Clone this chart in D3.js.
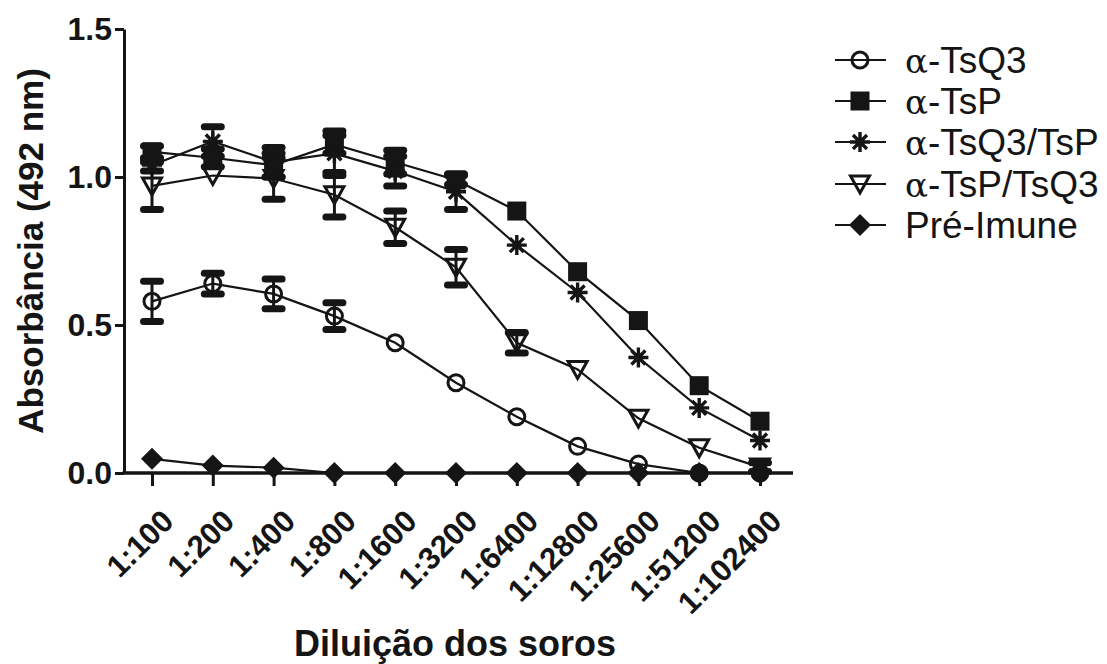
<!DOCTYPE html>
<html>
<head>
<meta charset="utf-8">
<script src="https://cdn.jsdelivr.net/npm/d3@7"></script>
<style>
  body { margin: 0; background: #fff; }
  svg { font-family: "Liberation Sans", Arial, sans-serif; }
</style>
</head>
<body>
<svg id="chart" width="1107" height="664"></svg>
<script>
var dilutions = ["1:100", "1:200", "1:400", "1:800", "1:1600", "1:3200", "1:6400", "1:12800", "1:25600", "1:51200", "1:102400"];
var yTicks = [0, 0.5, 1.0, 1.5];

var tsq3 = [0.58, 0.64, 0.605, 0.53, 0.44, 0.305, 0.19, 0.09, 0.03, 0.0, 0.0];
var tsq3Err = [0.068, 0.035, 0.05, 0.045, 0.01, 0.01, 0.01, 0.01, 0.01, 0.0, 0.0];
var tsp = [1.085, 1.065, 1.04, 1.11, 1.05, 0.99, 0.885, 0.68, 0.515, 0.295, 0.175];
var tspErr = [0.02, 0.03, 0.04, 0.03, 0.04, 0.015, 0.01, 0.01, 0.01, 0.01, 0.01];
var tsq3tsp = [1.04, 1.12, 1.05, 1.08, 1.02, 0.95, 0.77, 0.61, 0.39, 0.22, 0.11];
var tsq3tspErr = [0.02, 0.05, 0.05, 0.075, 0.05, 0.06, 0.01, 0.01, 0.01, 0.01, 0.01];
var tsptsq3 = [0.97, 1.005, 0.995, 0.94, 0.83, 0.695, 0.44, 0.35, 0.185, 0.085, 0.02];
var tsptsq3Err = [0.08, 0.01, 0.07, 0.075, 0.055, 0.06, 0.035, 0.01, 0.01, 0.01, 0.015];
var preImune = [0.048, 0.025, 0.018, 0.0, 0.0, 0.0, 0.0, 0.0, 0.0, 0.0, 0.0];
var preImuneErr = [0.005, 0.005, 0.005, 0, 0, 0, 0, 0, 0, 0, 0];

var seriesNames = ["-TsQ3", "-TsP", "-TsQ3/TsP", "-TsP/TsQ3", "Pré-Imune"];
var seriesAlpha = [true, true, true, true, false];
var seriesShapes = ["circle", "square", "asterisk", "triangle", "diamond"];

var series = [
  { values: tsq3, err: tsq3Err },
  { values: tsp, err: tspErr },
  { values: tsq3tsp, err: tsq3tspErr },
  { values: tsptsq3, err: tsptsq3Err },
  { values: preImune, err: preImuneErr }
];

var ink = "#151515";
var svg = d3.select("#chart");

var x = d3.scalePoint()
  .domain(dilutions)
  .range([152, 760]);

var y = d3.scaleLinear()
  .domain([0, 1.5])
  .range([473, 29]);

var axisLeftX = 124, axisRightX = 793;

// draw a marker of the given shape centred on (cx, cy)
function drawMarker(g, shape, cx, cy) {
  var m = g.append("g").attr("transform", "translate(" + cx + "," + cy + ")");
  if (shape == "circle") {
    m.append("circle").attr("r", 8)
      .attr("fill", "none").attr("stroke", ink).attr("stroke-width", 3);
  } else if (shape == "square") {
    m.append("rect").attr("x", -9.5).attr("y", -9.5).attr("width", 19).attr("height", 19)
      .attr("fill", ink);
  } else if (shape == "triangle") {
    m.append("path").attr("d", "M-9.5,-8L9.5,-8L0,9Z")
      .attr("fill", "none").attr("stroke", ink).attr("stroke-width", 3)
      .attr("stroke-linejoin", "miter");
  } else if (shape == "diamond") {
    m.append("path").attr("d", "M0,-11L11,0L0,11L-11,0Z").attr("fill", ink);
  } else if (shape == "asterisk") {
    var r = 10, d = 7;
    var p = "M" + (-r) + ",0L" + r + ",0M0," + (-r) + "L0," + r +
      "M" + (-d) + "," + (-d) + "L" + d + "," + d + "M" + (-d) + "," + d + "L" + d + "," + (-d);
    m.append("path").attr("d", p).attr("stroke", ink).attr("stroke-width", 3.4).attr("fill", "none");
    m.append("circle").attr("r", 4.5).attr("fill", ink);
  }
}

//axes
var yAxis = d3.axisLeft(y)
  .tickValues(yTicks)
  .tickFormat(d3.format(".1f"))
  .tickSize(9)
  .tickSizeOuter(0)
  .tickPadding(3);

var gy = svg.append("g")
  .attr("transform", "translate(" + axisLeftX + ",0)")
  .call(yAxis);
gy.select(".domain").attr("stroke", ink).attr("stroke-width", 3);
gy.selectAll(".tick line").attr("stroke", ink).attr("stroke-width", 3);
gy.selectAll(".tick text")
  .attr("fill", ink)
  .style("font-size", "32px")
  .style("font-weight", "bold")
  .style("font-family", "Liberation Sans, Arial, sans-serif");

var xAxis = d3.axisBottom(x)
  .tickSize(13)
  .tickSizeOuter(0);

var gx = svg.append("g")
  .attr("transform", "translate(0," + y(0) + ")")
  .call(xAxis);
gx.select(".domain").remove();
gx.append("line")
  .attr("x1", axisLeftX - 1.5).attr("x2", axisRightX)
  .attr("y1", 0).attr("y2", 0)
  .attr("stroke", ink).attr("stroke-width", 3.5);
gx.selectAll(".tick line").attr("stroke", ink).attr("stroke-width", 3);
gx.selectAll(".tick text")
  .attr("fill", ink)
  .style("font-size", "31px")
  .style("font-weight", "bold")
  .style("font-family", "Liberation Sans, Arial, sans-serif")
  .attr("text-anchor", "end")
  .attr("x", 0)
  .attr("y", 0)
  .attr("dy", null)
  .attr("transform", "translate(23,50) rotate(-45)");

//axis titles
svg.append("text")
  .text("Absorbância (492 nm)")
  .attr("transform", "translate(43," + ((y(0) + y(1.5)) / 2) + ") rotate(-90)")
  .attr("text-anchor", "middle")
  .attr("fill", ink)
  .style("font-size", "35px")
  .style("font-weight", "bold");

svg.append("text")
  .text("Diluição dos soros")
  .attr("x", 455)
  .attr("y", 656)
  .attr("text-anchor", "middle")
  .attr("fill", ink)
  .style("font-size", "36px")
  .style("font-weight", "bold");

//data
var line = d3.line()
  .x(function(d, i) { return x(dilutions[i]); })
  .y(function(d) { return y(d); });

var plot = svg.append("g");

series.forEach(function(s) {
  plot.append("path")
    .datum(s.values)
    .attr("d", line)
    .attr("fill", "none")
    .attr("stroke", ink)
    .attr("stroke-width", 2.2);
});

series.forEach(function(s) {
  s.values.forEach(function(v, i) {
    var e = s.err[i];
    if (e < 0.012) return;
    var cx = x(dilutions[i]);
    plot.append("line")
      .attr("x1", cx).attr("x2", cx)
      .attr("y1", y(v - e)).attr("y2", y(v + e))
      .attr("stroke", ink).attr("stroke-width", 3);
    [v - e, v + e].forEach(function(c) {
      plot.append("line")
        .attr("x1", cx - 8.5).attr("x2", cx + 8.5)
        .attr("y1", y(c)).attr("y2", y(c))
        .attr("stroke", ink).attr("stroke-width", 7)
        .attr("stroke-linecap", "round");
    });
  });
});

series.forEach(function(s, k) {
  s.values.forEach(function(v, i) {
    drawMarker(plot, seriesShapes[k], x(dilutions[i]), y(v));
  });
});

//legend
var legendRows = [60, 101, 142, 184, 225];
var legend = svg.append("g").attr("id", "legend");
seriesNames.forEach(function(name, k) {
  var ly = legendRows[k];
  legend.append("line")
    .attr("x1", 835).attr("x2", 886)
    .attr("y1", ly).attr("y2", ly)
    .attr("stroke", ink).attr("stroke-width", 2);
  drawMarker(legend, seriesShapes[k], 860, ly);
  var t = legend.append("text")
    .attr("x", 905)
    .attr("y", ly + 13)
    .attr("fill", ink)
    .style("font-size", "37px");
  if (seriesAlpha[k]) {
    t.append("tspan").text("α").style("font-family", "DejaVu Serif, serif").style("font-size", "34px");
  }
  t.append("tspan").text(name);
});
</script>
</body>
</html>
